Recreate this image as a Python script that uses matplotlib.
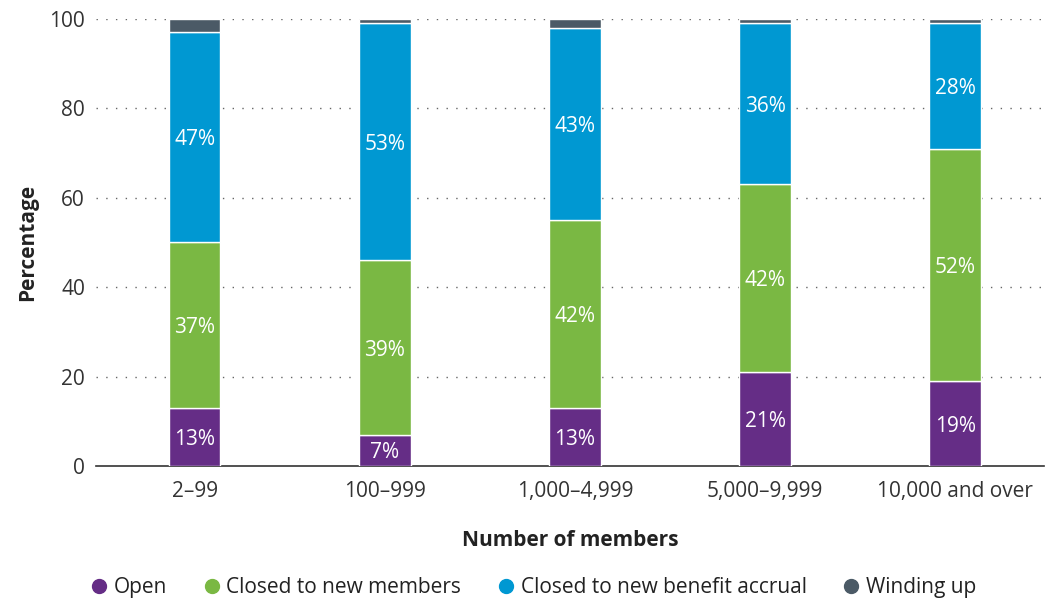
import matplotlib
matplotlib.use('Agg')
import matplotlib.pyplot as plt
from matplotlib.lines import Line2D
import numpy as np

plt.rcParams['font.family'] = ['Open Sans', 'DejaVu Sans']

# Scheme size bands and status shares (%)
categorias = ['2–99', '100–999', '1,000–4,999', '5,000–9,999', '10,000 and over']
aberto = [13, 7, 13, 21, 19]
fechado_membros = [37, 39, 42, 42, 52]
fechado_acumulo = [47, 53, 43, 36, 28]
encerrando = [3, 1, 2, 1, 1]

series = ['Open', 'Closed to new members', 'Closed to new benefit accrual', 'Winding up']
cores = ['#652d86', '#7ab843', '#0098d2', '#4b5a66']
valores = [aberto, fechado_membros, fechado_acumulo, encerrando]

fig = plt.figure(figsize=(10.48, 6.03), dpi=100)
ax = fig.add_axes([0.0916, 0.2272, 0.905, 0.7413])

x = np.arange(len(categorias))
base = np.zeros(len(categorias))
for nome, cor, vals in zip(series, cores, valores):
    vals = np.array(vals, dtype=float)
    ax.bar(x, vals, bottom=base, width=0.27, color=cor, edgecolor='white',
           linewidth=1, zorder=3)
    if nome != 'Winding up':
        for xi, b, v in zip(x, base, vals):
            ax.text(xi, b + v / 2, f'{int(v)}%', ha='center', va='center_baseline',
                    color='white', fontsize=15, zorder=4)
    base += vals

ax.set_ylim(0, 100)
ax.set_xlim(-0.52, 4.47)
ax.set_yticks([0, 20, 40, 60, 80, 100])
ax.set_xticks(x)
ax.set_xticklabels(categorias)
ax.tick_params(axis='both', length=0, labelsize=15, colors='#333333')
ax.tick_params(axis='y', pad=8)
ax.tick_params(axis='x', pad=11)

for g in [20, 40, 60, 80, 100]:
    ax.axhline(g, color='#666666', linestyle=(0, (1, 6)), linewidth=1, zorder=1)

for s in ['top', 'right', 'left']:
    ax.spines[s].set_visible(False)
ax.spines['bottom'].set_color('#333333')
ax.spines['bottom'].set_linewidth(1.2)

ax.set_ylabel('Percentage', fontsize=15, fontweight='bold', color='#222222', labelpad=8)
ax.set_xlabel('Number of members', fontsize=15, fontweight='bold', color='#222222', labelpad=20)

# Legenda
handles = [Line2D([0], [0], marker='o', color='none', markerfacecolor=c,
                  markeredgecolor=c, markersize=10, label=n)
           for n, c in zip(series, cores)]
fig.legend(handles=handles, loc='center', bbox_to_anchor=(0.508, 0.025), ncol=4,
           frameon=False, fontsize=15, handlelength=1.0, handletextpad=0.2,
           columnspacing=1.65, labelcolor='#222222')

fig.savefig('out.png', dpi=100)
